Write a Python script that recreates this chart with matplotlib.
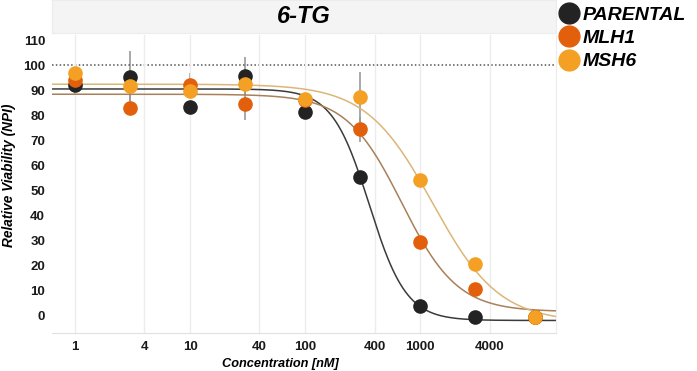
import numpy as np
import matplotlib.pyplot as plt

# concentrations in nM
conc = [1, 3, 10, 30, 100, 300, 1000, 3000, 10000]

parental = [92, 95.2, 83.5, 95.6, 81.5, 55.5, 3.8, -0.4, -0.5]
parental_err = [4, 10.5, 0, 7.5, 0, 0, 0, 0, 0]
mlh1 = [94, 83, 92, 84.5, 86, 74.5, 29.5, 10.8, -0.4]
mlh1_err = [0, 0, 5, 6.5, 0, 5, 0, 0, 0]
msh6 = [96.8, 91.6, 89.6, 92.4, 86.4, 87.3, 54.2, 20.7, -0.4]
msh6_err = [0, 6, 0, 0, 0, 10, 0, 0, 0]

# 4PL fit parameters: top, bottom, IC50, hill
fit_parental = [90.5, -1.8, 360, 2.7]
fit_mlh1 = [88.4, 1.7, 690, 1.8]
fit_msh6 = [92.4, -2.5, 1280, 1.5]

names = ["PARENTAL", "MLH1", "MSH6"]
dot_colors = ["#232323", "#e2600c", "#f4a024"]
line_colors = ["#3b3b3b", "#a8805a", "#dcb678"]

xticks = [1, 4, 10, 40, 100, 400, 1000, 4000]
yticks = list(range(0, 111, 10))

FONT = "Liberation Sans"


def four_pl(x, top, bottom, ic50, hill):
    return bottom + (top - bottom) / (1 + (x / ic50) ** hill)


fig = plt.figure(figsize=(6.97, 3.71), dpi=100)
ax = fig.add_axes([0.0746, 0.1024, 0.7231, 0.8032])

xs = np.logspace(np.log10(0.63), np.log10(15100), 400)
series = [parental, mlh1, msh6]
errs = [parental_err, mlh1_err, msh6_err]
fits = [fit_parental, fit_mlh1, fit_msh6]

for fit, lc in zip(fits, line_colors):
    ax.plot(xs, four_pl(xs, *fit), color=lc, lw=1.1, zorder=2)

for ys, er in zip(series, errs):
    ax.errorbar(conc, ys, yerr=er, fmt="none", ecolor="#9a9a9a", elinewidth=1.2, zorder=1)

for ys, dc in zip(series, dot_colors):
    ax.plot(conc, ys, "o", ms=9.5, color=dc, mec=dc, zorder=3, clip_on=False)

ax.axhline(100, color="#555555", lw=1.1, ls=(0, (1, 1.5)), zorder=1)

ax.set_xscale("log")
ax.set_xlim(0.63, 15100)
ax.set_ylim(-6.8, 112)
ax.set_xticks(xticks)
ax.set_xticklabels([str(t) for t in xticks])
ax.minorticks_off()
ax.set_yticks(yticks)
ax.tick_params(length=0, labelsize=9.5, colors="#1a1a1a")
ax.tick_params(axis="y", pad=5)
ax.tick_params(axis="x", pad=6)
for lab in ax.get_xticklabels() + ax.get_yticklabels():
    lab.set_fontweight("bold")
    lab.set_family(FONT)
ax.grid(axis="x", color="#ececec", lw=1)
for s in ["left", "top"]:
    ax.spines[s].set_visible(False)
ax.spines["bottom"].set_color("#e0e0e0")
ax.spines["right"].set_color("#ececec")

ax.set_ylabel("Relative Viability (NPI)", family=FONT, fontsize=9.8, fontweight="bold",
              style="italic")
ax.yaxis.set_label_coords(-0.072, 0.53)
fig.text(0.402, 0.012, "Concentration [nM]", family=FONT, fontsize=9.2, fontweight="bold",
         style="italic", ha="center")

# title strip
tax = fig.add_axes([0.0746, 0.911, 0.7231, 0.089])
tax.set_facecolor("#f4f4f4")
tax.set_xticks([])
tax.set_yticks([])
for s in tax.spines.values():
    s.set_color("#ececec")
tax.text(0.5, 0.5, "6-TG", transform=tax.transAxes, ha="center", va="center",
         family=FONT, fontsize=17, fontweight="bold", style="italic")

# legend
handles = [plt.Line2D([], [], ls="none", marker="o", ms=15, color=c) for c in dot_colors]
leg = fig.legend(handles, names, loc="upper left", bbox_to_anchor=(0.786, 1.005),
                 frameon=False, handletextpad=0.0, labelspacing=0.3, borderaxespad=0,
                 handlelength=1.4,
                 prop={"family": FONT, "size": 14, "weight": "bold", "style": "italic"})

fig.savefig("out.png", dpi=100)
